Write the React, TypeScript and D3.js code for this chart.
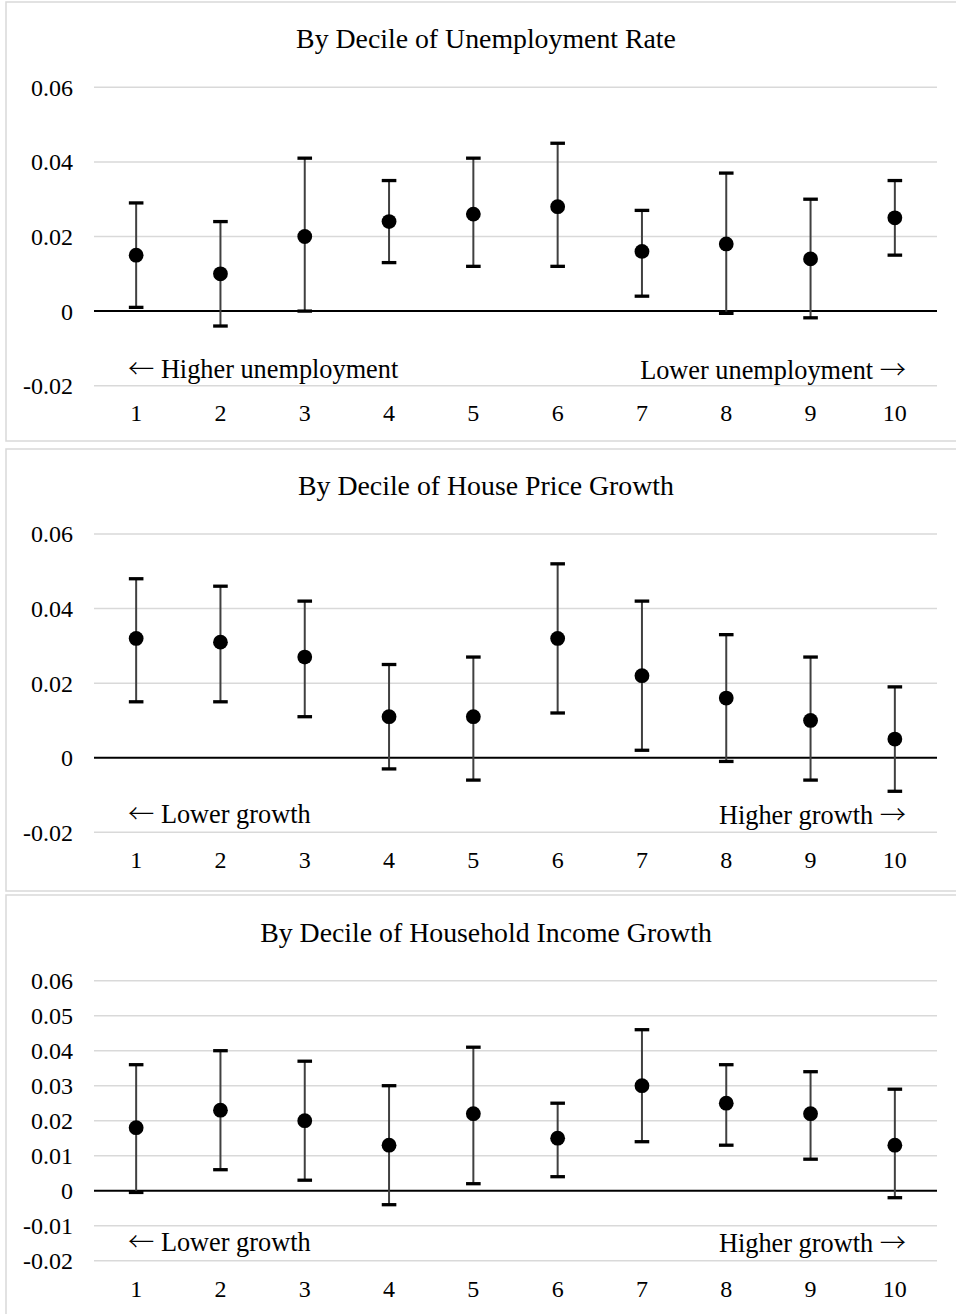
import React from "react";
import * as d3 from "d3";

const deciles = ["1", "2", "3", "4", "5", "6", "7", "8", "9", "10"];

// Panel 1: by decile of unemployment rate
const unempMean = [0.015, 0.01, 0.02, 0.024, 0.026, 0.028, 0.016, 0.018, 0.014, 0.025];
const unempLow = [0.001, -0.004, 0.0, 0.013, 0.012, 0.012, 0.004, -0.0006, -0.0018, 0.015];
const unempHigh = [0.029, 0.024, 0.041, 0.035, 0.041, 0.045, 0.027, 0.037, 0.03, 0.035];

// Panel 2: by decile of house price growth
const houseMean = [0.032, 0.031, 0.027, 0.011, 0.011, 0.032, 0.022, 0.016, 0.01, 0.005];
const houseLow = [0.015, 0.015, 0.011, -0.003, -0.006, 0.012, 0.002, -0.001, -0.006, -0.009];
const houseHigh = [0.048, 0.046, 0.042, 0.025, 0.027, 0.052, 0.042, 0.033, 0.027, 0.019];

// Panel 3: by decile of household income growth
const incomeMean = [0.018, 0.023, 0.02, 0.013, 0.022, 0.015, 0.03, 0.025, 0.022, 0.013];
const incomeLow = [-0.0005, 0.006, 0.003, -0.004, 0.002, 0.004, 0.014, 0.013, 0.009, -0.002];
const incomeHigh = [0.036, 0.04, 0.037, 0.03, 0.041, 0.025, 0.046, 0.036, 0.034, 0.029];

const ticksCoarse = ["-0.02", "0", "0.02", "0.04", "0.06"];
const ticksFine = ["-0.02", "-0.01", "0", "0.01", "0.02", "0.03", "0.04", "0.05", "0.06"];

const FONT = "'Liberation Serif', 'Times New Roman', serif";
const ARROW_FONT = "'Noto Sans CJK JP', 'DejaVu Sans', sans-serif";
const GRID = "#d9d9d9";

type PanelProps = {
  top: number;
  boxHeight: number;
  plotTop: number;
  plotBottom: number;
  titleY: number;
  labelY: number;
  noteY: number;
  title: string;
  leftNote: string;
  rightNote: string;
  yTicks: string[];
  mean: number[];
  low: number[];
  high: number[];
};

const Panel = ({
  top,
  boxHeight,
  plotTop,
  plotBottom,
  titleY,
  labelY,
  noteY,
  title,
  leftNote,
  rightNote,
  yTicks,
  mean,
  low,
  high,
}: PanelProps) => {
  const left = 94;
  const right = 937;
  const x = d3.scaleBand<string>().domain(deciles).range([left, right]).padding(0);
  const y = d3.scaleLinear().domain([-0.02, 0.06]).range([plotBottom, plotTop]);
  const cx = (i: number) => (x(deciles[i]) ?? 0) + x.bandwidth() / 2;

  return (
    <g transform={`translate(0,${top})`}>
      <rect x={6} y={0} width={960} height={boxHeight} fill="white" stroke={GRID} strokeWidth={1.5} />
      <text x={486} y={titleY} textAnchor="middle" fontSize={27.8} fontFamily={FONT}>
        {title}
      </text>
      {yTicks.map((t) => (
        <g key={t}>
          <line
            x1={left}
            x2={right}
            y1={y(+t)}
            y2={y(+t)}
            stroke={+t === 0 ? "black" : GRID}
            strokeWidth={+t === 0 ? 2 : 1.5}
          />
          <text x={73} y={y(+t)} dy="0.35em" textAnchor="end" fontSize={24} fontFamily={FONT}>
            {t}
          </text>
        </g>
      ))}
      {deciles.map((d, i) => (
        <g key={d}>
          <line x1={cx(i)} x2={cx(i)} y1={y(high[i])} y2={y(low[i])} stroke="#404040" strokeWidth={2} />
          <line x1={cx(i) - 7.3} x2={cx(i) + 7.3} y1={y(high[i])} y2={y(high[i])} stroke="black" strokeWidth={3.3} />
          <line x1={cx(i) - 7.3} x2={cx(i) + 7.3} y1={y(low[i])} y2={y(low[i])} stroke="black" strokeWidth={3.3} />
          <circle cx={cx(i)} cy={y(mean[i])} r={7.4} fill="black" />
          <text x={cx(i)} y={labelY} textAnchor="middle" fontSize={24} fontFamily={FONT}>
            {d}
          </text>
        </g>
      ))}
      <text x={128} y={noteY} textAnchor="start" fontSize={26.3} fontFamily={FONT}>
        <tspan fontFamily={ARROW_FONT} fontWeight={300}>←</tspan>
        <tspan> {leftNote}</tspan>
      </text>
      <text x={906} y={noteY + 1} textAnchor="end" fontSize={26.3} fontFamily={FONT}>
        <tspan>{rightNote} </tspan>
        <tspan fontFamily={ARROW_FONT} fontWeight={300}>→</tspan>
      </text>
    </g>
  );
};

export default function App() {
  return (
    <svg
      width={956}
      height={1314}
      viewBox="0 0 956 1314"
      style={{ position: "absolute", top: 0, left: 0, background: "white" }}
    >
      <Panel
        top={2}
        boxHeight={439}
        plotTop={85.3}
        plotBottom={383.7}
        titleY={46}
        labelY={419}
        noteY={376}
        title="By Decile of Unemployment Rate"
        leftNote="Higher unemployment"
        rightNote="Lower unemployment"
        yTicks={ticksCoarse}
        mean={unempMean}
        low={unempLow}
        high={unempHigh}
      />
      <Panel
        top={449}
        boxHeight={442}
        plotTop={85}
        plotBottom={383.3}
        titleY={46}
        labelY={418.5}
        noteY={374}
        title="By Decile of House Price Growth"
        leftNote="Lower growth"
        rightNote="Higher growth"
        yTicks={ticksCoarse}
        mean={houseMean}
        low={houseLow}
        high={houseHigh}
      />
      <Panel
        top={895}
        boxHeight={430}
        plotTop={85.7}
        plotBottom={365.7}
        titleY={46.5}
        labelY={401.5}
        noteY={356}
        title="By Decile of Household Income Growth"
        leftNote="Lower growth"
        rightNote="Higher growth"
        yTicks={ticksFine}
        mean={incomeMean}
        low={incomeLow}
        high={incomeHigh}
      />
    </svg>
  );
}
